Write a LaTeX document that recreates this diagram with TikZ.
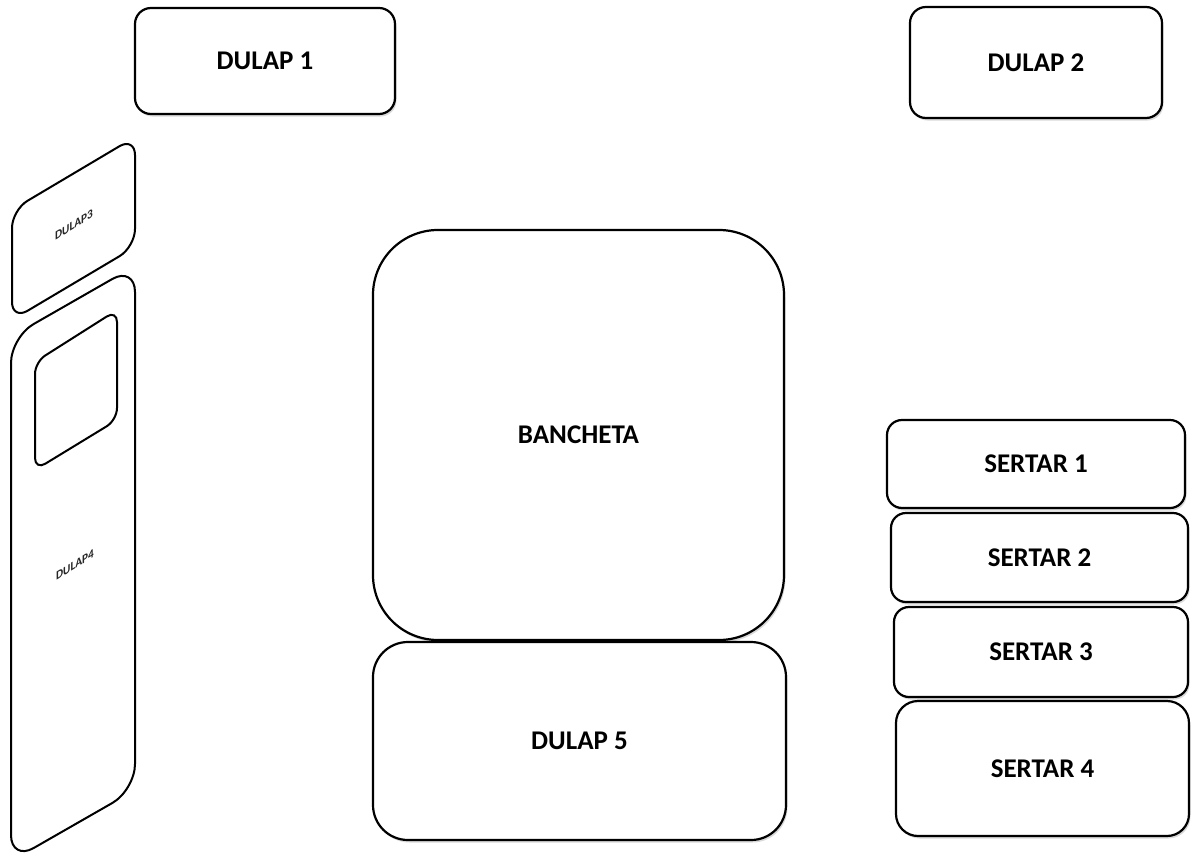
\documentclass[tikz,border=0pt]{standalone}
\usepackage{fontspec}
\setmainfont{Carlito}
\usetikzlibrary{shadows}
\begin{document}
\begin{tikzpicture}[x=1pt,y=-1pt,
  box/.style={draw=black, line width=2.2pt, fill=white, rounded corners=#1,
    inner sep=0pt, font=\fontsize{27}{32}\selectfont\bfseries,
    drop shadow={shadow xshift=1.5pt, shadow yshift=-2.5pt, opacity=0.3, fill=gray}},
  box/.default=16pt,
  slab/.style={draw=black, line width=2pt, fill=white},
  tinylabel/.style={font=\fontsize{12.5}{14}\selectfont\bfseries, text=black!85,
    inner sep=0pt, yslant=0.62, xscale=0.9}]
\useasboundingbox (0,0) rectangle (1192,857);
% top cupboards
\node[box, minimum width=260pt, minimum height=106pt] (d1) at (265,61) {DULAP 1};
\node[box, minimum width=252pt, minimum height=111pt] (d2) at (1036,62.5) {DULAP 2};
% bench and cupboard 5
\node[box=65pt, minimum width=411pt, minimum height=410pt] (banc) at (578.5,435) {BANCHETA};
\node[box=35pt, minimum width=413pt, minimum height=198pt] (d5) at (579.5,741) {DULAP 5};
% drawers
\node[box=15pt, minimum width=298pt, minimum height=88pt] (s1) at (1036,464) {SERTAR 1};
\node[box=15pt, minimum width=297pt, minimum height=89pt] (s2) at (1039.5,557.5) {SERTAR 2};
\node[box=15pt, minimum width=294pt, minimum height=90pt] (s3) at (1041,652) {SERTAR 3};
\node[box=22pt, minimum width=293pt, minimum height=135pt] (s4) at (1042.5,768.5) {SERTAR 4};
% left side, drawn in perspective
\draw[slab, rounded corners=18pt] (12,210) -- (135,137) -- (135,247) -- (12,320) -- cycle;
\node[tinylabel] (d3) at (74,225) {DULAP3};
\draw[slab, rounded corners=26pt] (11,337) -- (135,266) -- (135,790) -- (11,861) -- cycle;
\draw[slab, rounded corners=12pt] (35,362) -- (117,310) -- (117,420) -- (35,470) -- cycle;
\node[tinylabel] (d4) at (75,565) {DULAP4};
\end{tikzpicture}
\end{document}
